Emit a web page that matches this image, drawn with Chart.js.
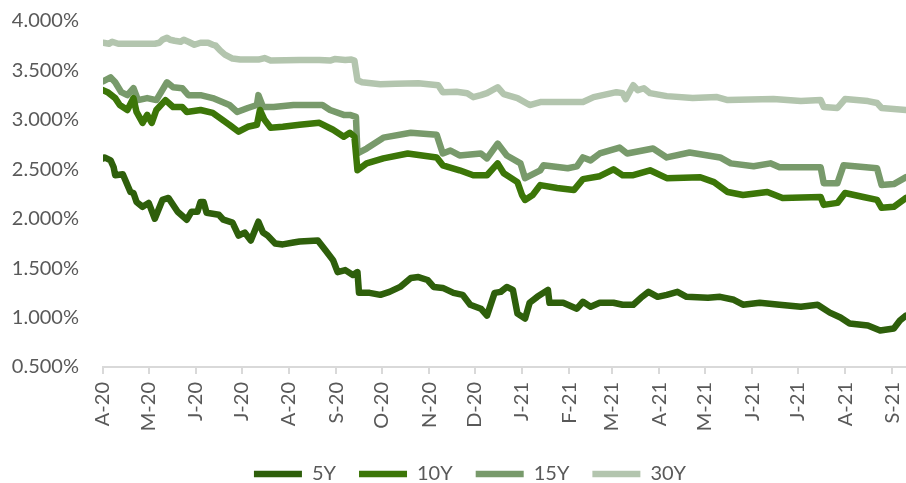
<!DOCTYPE html>
<html>
<head>
<meta charset="utf-8">
<script src="https://cdn.jsdelivr.net/npm/chart.js@4/dist/chart.umd.min.js"></script>
<style>
  html, body { margin: 0; padding: 0; background: #ffffff; }
  canvas { display: block; }
</style>
</head>
<body>
<canvas id="c" width="906" height="483"></canvas>
<script>
// ---- DATA (days counted from 2020-04-01) ----
const tickLabels = ["A-20","M-20","J-20","J-20","A-20","S-20","O-20","N-20","D-20",
                    "J-21","F-21","M-21","A-21","M-21","J-21","J-21","A-21","S-21"];
const seriesNames = ["5Y", "10Y", "15Y", "30Y"];

const days5Y = [0,1,5,7,8,13,18,20,22,26,30,34,39,43,49,55,58,62,64,66,68,76,79,85,89,93,97,102,105,108,113,118,125,129,141,146,151,154,159,164,167,168,175,182,188,195,202,207,213,217,223,230,236,241,248,252,257,261,265,269,272,277,280,285,292,293,302,311,315,320,326,335,341,348,353,358,364,370,377,383,397,405,414,420,431,444,458,469,477,484,490,502,510,519,523,527];
const yield5Y = [2.61,2.62,2.59,2.52,2.44,2.45,2.27,2.26,2.17,2.12,2.16,2.00,2.19,2.21,2.07,1.99,2.07,2.07,2.17,2.17,2.06,2.04,1.99,1.96,1.83,1.86,1.78,1.97,1.86,1.83,1.75,1.74,1.76,1.77,1.78,1.68,1.58,1.46,1.48,1.43,1.46,1.25,1.25,1.23,1.26,1.31,1.40,1.41,1.38,1.31,1.30,1.25,1.23,1.13,1.09,1.02,1.25,1.26,1.31,1.28,1.04,0.99,1.15,1.21,1.28,1.15,1.15,1.09,1.16,1.11,1.15,1.15,1.13,1.13,1.20,1.26,1.21,1.23,1.26,1.21,1.20,1.21,1.18,1.13,1.15,1.13,1.11,1.13,1.05,1.00,0.94,0.92,0.87,0.89,0.97,1.02];

const days10Y = [0,3,8,11,16,20,22,26,29,32,35,41,46,52,55,64,72,83,89,95,101,103,106,110,118,129,142,151,158,162,165,167,173,184,200,219,223,234,243,252,259,263,272,275,277,282,287,298,309,315,326,335,341,348,359,370,392,401,410,420,436,446,471,473,482,487,499,508,511,519,527];
const yield10Y = [3.30,3.28,3.22,3.15,3.10,3.22,3.08,2.97,3.05,2.97,3.10,3.20,3.13,3.13,3.08,3.10,3.07,2.95,2.88,2.93,2.95,3.10,3.00,2.92,2.93,2.95,2.97,2.90,2.83,2.87,2.83,2.49,2.56,2.61,2.66,2.62,2.54,2.49,2.44,2.44,2.56,2.46,2.37,2.24,2.19,2.24,2.34,2.31,2.29,2.40,2.43,2.50,2.44,2.44,2.49,2.41,2.42,2.37,2.27,2.24,2.27,2.21,2.22,2.14,2.16,2.26,2.22,2.19,2.11,2.12,2.21];

const days15Y = [0,5,8,12,16,20,23,29,35,42,46,52,56,64,72,83,88,95,101,102,105,112,125,144,149,158,162,166,167,173,184,202,219,223,228,234,248,252,259,265,274,277,287,289,305,311,315,320,326,339,344,361,370,385,405,412,427,438,444,471,473,482,486,508,511,519,527];
const yield15Y = [3.39,3.43,3.38,3.28,3.25,3.32,3.20,3.22,3.20,3.38,3.33,3.32,3.25,3.25,3.22,3.15,3.08,3.12,3.15,3.25,3.13,3.13,3.15,3.15,3.10,3.05,3.05,3.03,2.66,2.71,2.82,2.87,2.85,2.66,2.69,2.64,2.66,2.61,2.76,2.64,2.56,2.41,2.49,2.54,2.51,2.53,2.62,2.59,2.66,2.72,2.66,2.71,2.62,2.67,2.62,2.56,2.53,2.56,2.52,2.52,2.36,2.36,2.54,2.51,2.34,2.35,2.42];

const days30Y = [0,4,6,10,24,34,37,39,42,44,47,51,53,56,60,64,69,72,74,77,80,85,90,102,106,110,129,142,149,152,159,163,165,167,170,182,192,207,220,223,232,239,243,248,252,259,263,272,280,287,315,322,328,337,341,343,348,351,355,359,370,387,403,410,440,458,471,473,482,487,502,508,511,527];
const yield30Y = [3.78,3.77,3.79,3.77,3.77,3.77,3.78,3.81,3.83,3.81,3.80,3.79,3.81,3.79,3.76,3.78,3.78,3.76,3.75,3.70,3.66,3.62,3.61,3.61,3.625,3.60,3.605,3.605,3.60,3.615,3.605,3.61,3.60,3.40,3.38,3.36,3.365,3.37,3.35,3.28,3.285,3.27,3.23,3.25,3.27,3.33,3.26,3.22,3.15,3.18,3.18,3.23,3.25,3.28,3.27,3.21,3.35,3.30,3.32,3.27,3.24,3.22,3.23,3.20,3.21,3.19,3.20,3.13,3.12,3.21,3.19,3.17,3.12,3.10];

const yTickMin = 0.5, yTickMax = 4.0, yTickStep = 0.5;

// ---- helpers ----
const pair = (xs, ys) => xs.map((x, i) => ({ x: x, y: ys[i] }));
const startUTC = Date.UTC(2020, 3, 1);
const tickDays = tickLabels.map((_, i) => (Date.UTC(2020, 3 + i, 1) - startUTC) / 86400000);
const allDays = [days5Y, days10Y, days15Y, days30Y];
const lastDay = Math.max(...allDays.map(d => d[d.length - 1]));

const colors = ["#2e5f0b", "#3c7608", "#789a6b", "#b3c5ae"];
const seriesData = [pair(days5Y, yield5Y), pair(days10Y, yield10Y), pair(days15Y, yield15Y), pair(days30Y, yield30Y)];

const FONT = "Lato";
const TEXT = "#595959";

const legendNudge = {
  id: "legendNudge",
  afterInit(chart) {
    const lg = chart.legend;
    if (!lg) return;
    const origFit = lg.fit.bind(lg);
    lg.fit = function () { origFit(); this.height -= 11; };
  },
  afterLayout(chart) {
    if (chart.legend) chart.legend.left += 34;
  }
};

new Chart(document.getElementById("c"), {
  type: "line",
  data: {
    datasets: seriesNames.map((name, i) => ({
      label: name,
      data: seriesData[i],
      borderColor: colors[i],
      backgroundColor: colors[i],
      borderWidth: 6.5,
      borderJoinStyle: "round",
      borderCapStyle: "round",
      pointRadius: 0,
      tension: 0,
      fill: false
    }))
  },
  plugins: [legendNudge],
  options: {
    responsive: false,
    devicePixelRatio: 1,
    animation: false,
    layout: { padding: { top: 21, right: 0, left: 0, bottom: 0 } },
    plugins: {
      tooltip: { enabled: false },
      legend: {
        position: "bottom",
        labels: {
          usePointStyle: true,
          pointStyle: "line",
          pointStyleWidth: 48,
          padding: 23,
          color: TEXT,
          font: { family: FONT, size: 20 }
        }
      }
    },
    scales: {
      x: {
        type: "linear",
        min: 0,
        max: lastDay,
        afterBuildTicks: (scale) => { scale.ticks = tickDays.map(v => ({ value: v })); },
        afterFit: (scale) => { scale.height = 74; scale.paddingLeft = 0; scale.paddingRight = 0; },
        border: { display: true, color: "#d9d9d9", width: 2 },
        grid: { display: true, drawOnChartArea: false, drawTicks: true, tickLength: 7, color: "#d9d9d9", lineWidth: 2 },
        ticks: {
          autoSkip: false,
          minRotation: 90,
          maxRotation: 90,
          padding: 8,
          color: TEXT,
          font: { family: FONT, size: 20 },
          callback: (value, index) => tickLabels[index]
        }
      },
      y: {
        min: yTickMin,
        max: yTickMax,
        afterFit: (scale) => { scale.width = 103; scale.paddingTop = 0; scale.paddingBottom = 0; },
        border: { display: false },
        grid: { display: false, drawTicks: false },
        ticks: {
          stepSize: yTickStep,
          padding: 24,
          color: TEXT,
          font: { family: FONT, size: 20 },
          callback: (v) => v.toFixed(3) + "%"
        }
      }
    }
  }
});
</script>
</body>
</html>
